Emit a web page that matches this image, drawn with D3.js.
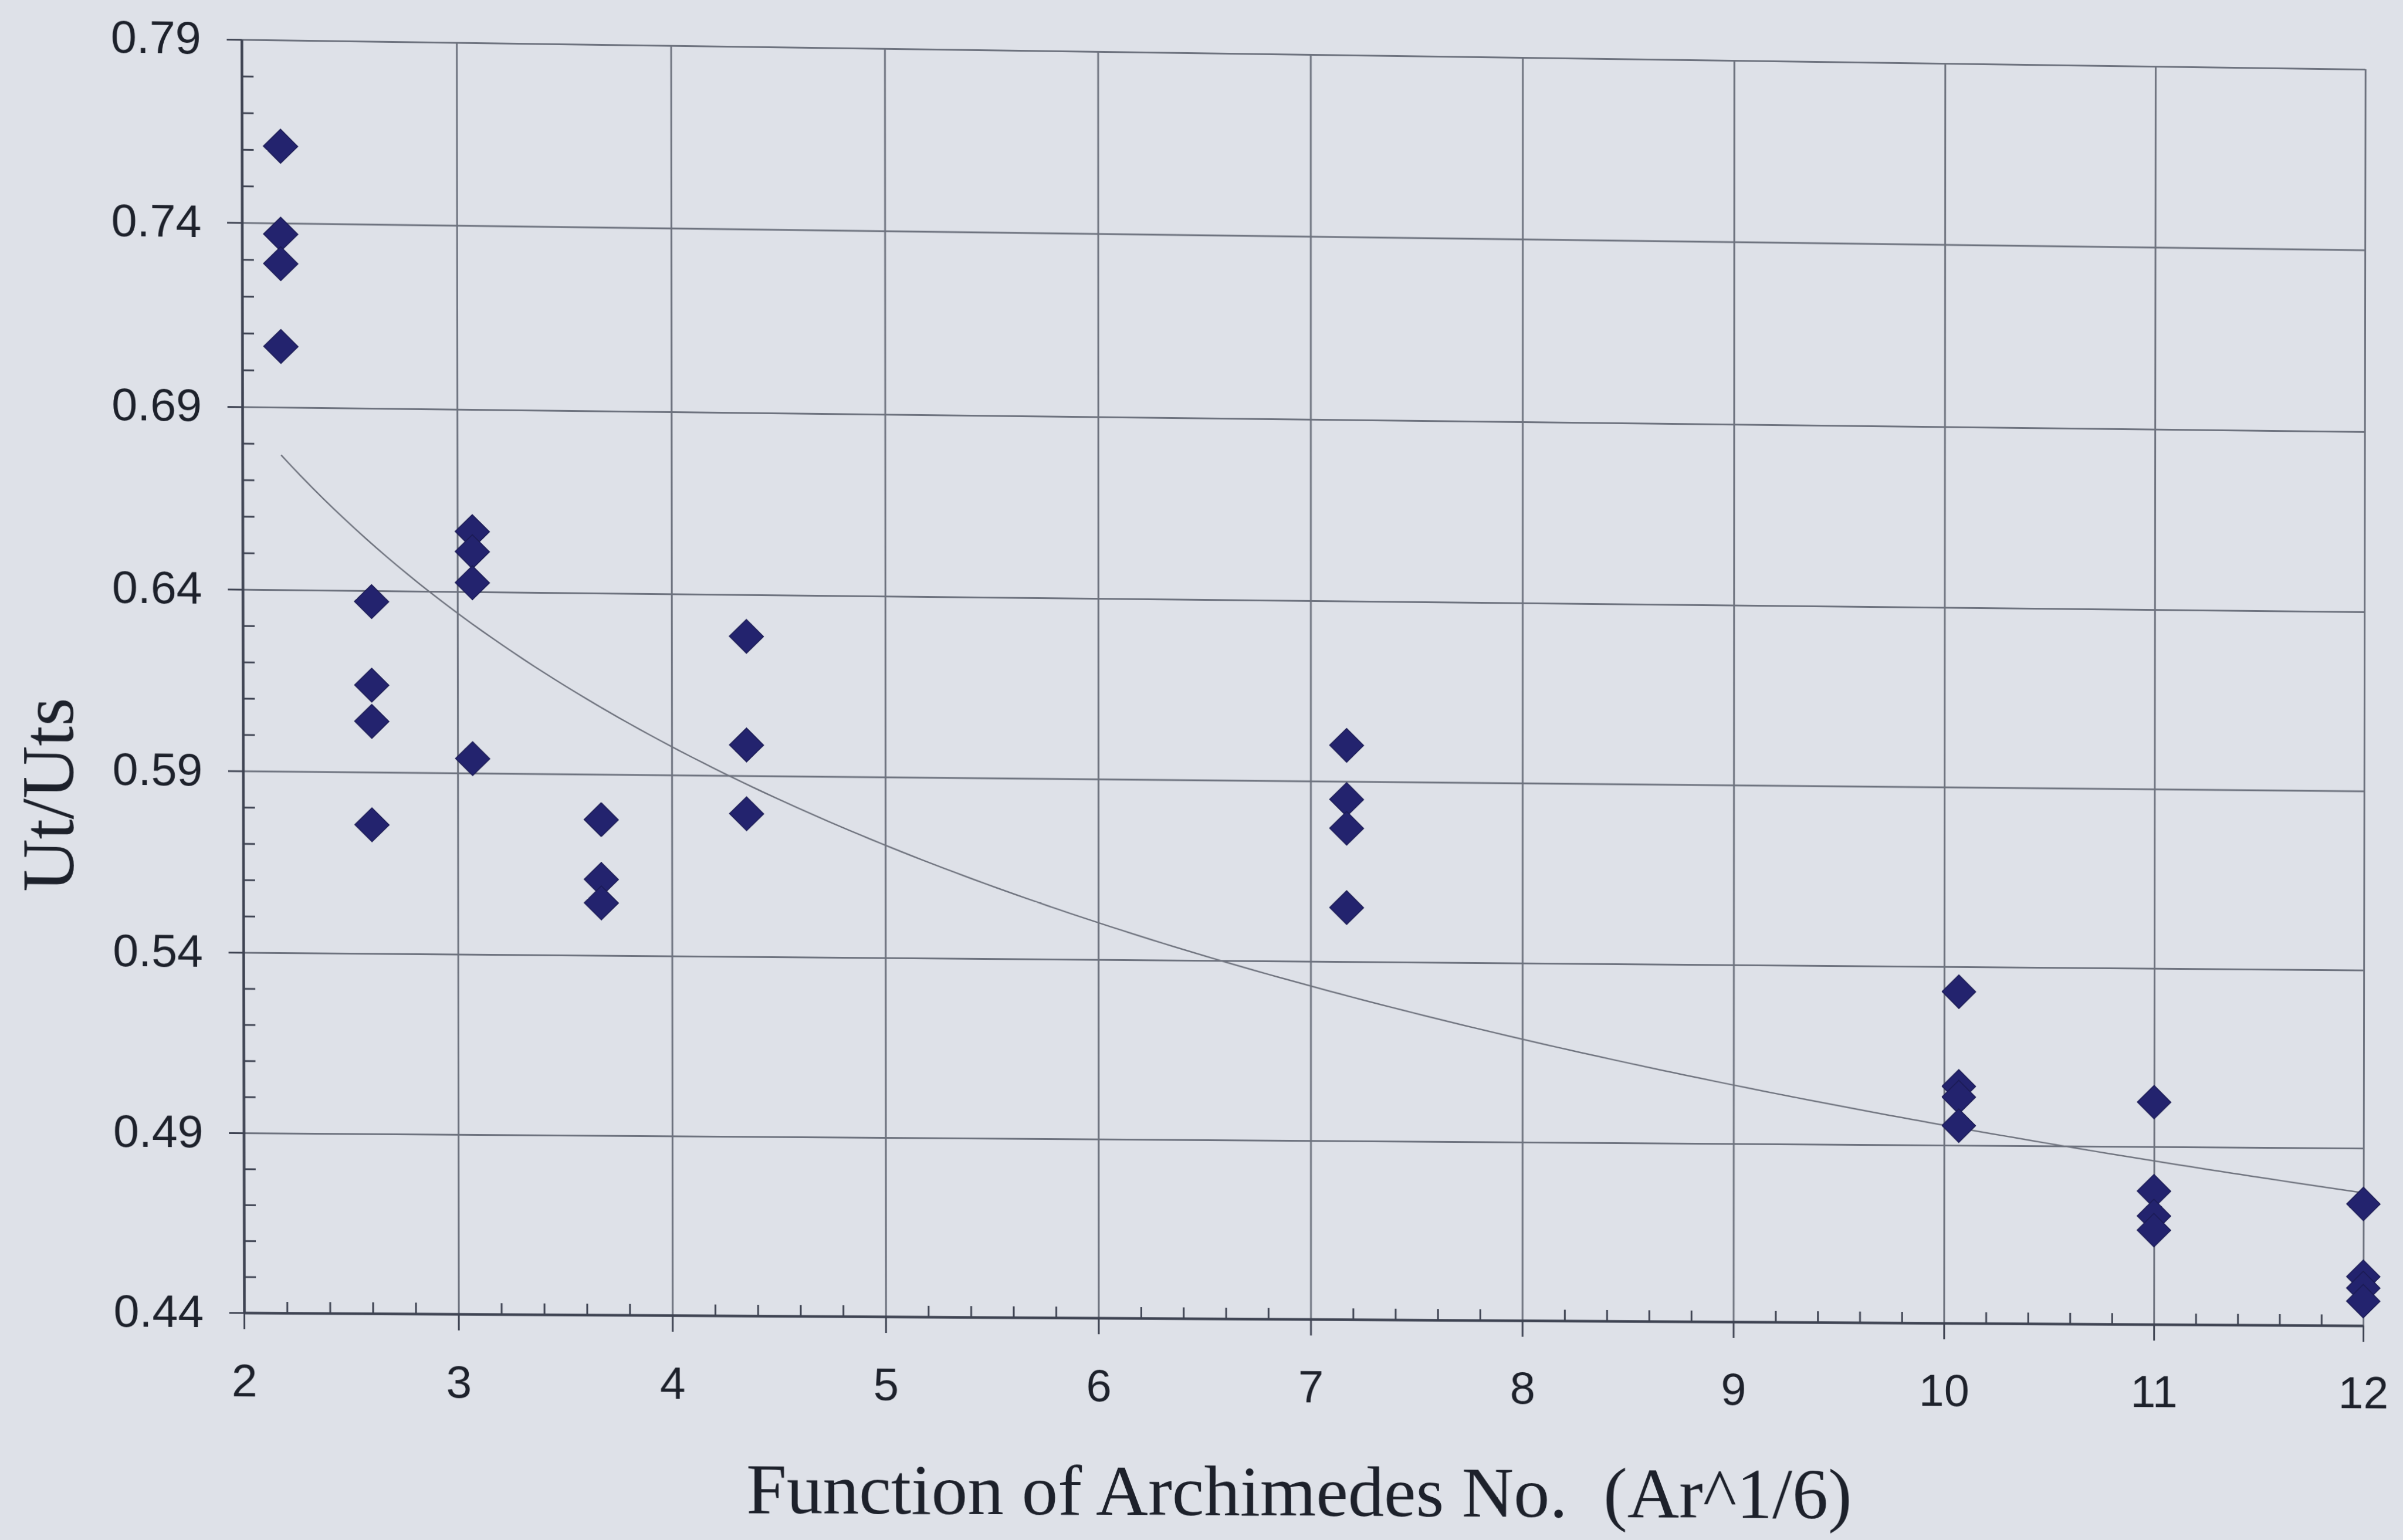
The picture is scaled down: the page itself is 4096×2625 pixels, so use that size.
<!DOCTYPE html>
<html>
<head>
<meta charset="utf-8">
<script src="https://cdn.jsdelivr.net/npm/d3@7"></script>
<style>
  html, body { margin: 0; padding: 0; background: #dee1e8; overflow: hidden; }
  #page { position: absolute; left: 0; top: 0; width: 4096px; height: 2625px; transform-origin: 0 0; }
  svg { display: block; }
</style>
</head>
<body>
<div id="page"></div>
<script>
// Measured terminal velocity ratio against the Archimedes-number group Ar^(1/6)
const xValues = [
  2.18, 2.18, 2.18, 2.18,
  2.60, 2.60, 2.60, 2.60,
  3.07, 3.07, 3.07, 3.07,
  3.67, 3.67, 3.67,
  4.35, 4.35, 4.35,
  7.17, 7.17, 7.17, 7.17,
  10.07, 10.07, 10.07, 10.07,
  11.00, 11.00, 11.00, 11.00,
  12.00, 12.00, 12.00, 12.00
];
const yValues = [
  0.761, 0.737, 0.729, 0.7065,
  0.637, 0.614, 0.604, 0.5755,
  0.6565, 0.651, 0.6425, 0.594,
  0.5775, 0.561, 0.5545,
  0.6285, 0.5985, 0.5795,
  0.600, 0.585, 0.577, 0.555,
  0.533, 0.5065, 0.5035, 0.4955,
  0.5025, 0.4775, 0.4705, 0.4665,
  0.4743, 0.4538, 0.4506, 0.4469
];
// power trendline y = a * x^b
const trendCoef = 0.794;
const trendPower = -0.2047;

const xTicks = [2, 3, 4, 5, 6, 7, 8, 9, 10, 11, 12];
const yTicks = [0.44, 0.49, 0.54, 0.59, 0.64, 0.69, 0.74, 0.79];
const xTitle = "Function of Archimedes No.\u00a0\u00a0(Ar^1/6)";
const yTitle = "Ut/Uts";

const W = 4096, H = 2625;
const plot = { left: 412, top: 67, right: 4031, bottom: 2237 };
const plotW = plot.right - plot.left, plotH = plot.bottom - plot.top;
// the printed sheet bows slightly in the middle: downward shift (px) at each y gridline
const sheetBow = [0, 3, 5, 5.5, 6, 5, 1.5, 0];

const COLORS = {
  grid: "#6d727e", axis: "#3e4352", text: "#1d212b",
  marker: "#23236e", markerEdge: "#1a1a52", trend: "#6f737e"
};

// The printed page sits slightly out of square: the sheet is projected onto this quad
const flatCorners = [[plot.left, plot.top], [plot.right, plot.top], [plot.left, plot.bottom], [plot.right, plot.bottom]];
const pageCorners = [[411.8, 67.4], [4031.0, 118.1], [416.0, 2237.2], [4026.9, 2258.9]];

function solveHomography(src, dst) {
  const A = [], b = [];
  for (let i = 0; i < 4; i++) {
    const [x, y] = src[i], [u, v] = dst[i];
    A.push([x, y, 1, 0, 0, 0, -x * u, -y * u]); b.push(u);
    A.push([0, 0, 0, x, y, 1, -x * v, -y * v]); b.push(v);
  }
  const n = 8;
  for (let c = 0; c < n; c++) {
    let p = c;
    for (let r = c + 1; r < n; r++) if (Math.abs(A[r][c]) > Math.abs(A[p][c])) p = r;
    [A[c], A[p]] = [A[p], A[c]]; [b[c], b[p]] = [b[p], b[c]];
    for (let r = c + 1; r < n; r++) {
      const f = A[r][c] / A[c][c];
      for (let k = c; k < n; k++) A[r][k] -= f * A[c][k];
      b[r] -= f * b[c];
    }
  }
  const h = new Array(n);
  for (let r = n - 1; r >= 0; r--) {
    let s = b[r];
    for (let k = r + 1; k < n; k++) s -= A[r][k] * h[k];
    h[r] = s / A[r][r];
  }
  return h;
}
function project(h, [x, y]) {
  const w = h[6] * x + h[7] * y + 1;
  return [(h[0] * x + h[1] * y + h[2]) / w, (h[3] * x + h[4] * y + h[5]) / w];
}
const hPage = solveHomography(flatCorners, pageCorners);
const hFlat = solveHomography(pageCorners, flatCorners);
d3.select("#page").style("transform",
  `matrix3d(${hPage[0]},${hPage[3]},0,${hPage[6]},${hPage[1]},${hPage[4]},0,${hPage[7]},0,0,1,0,${hPage[2]},${hPage[5]},0,1)`);

const x = d3.scaleLinear().domain([2, 12]).range([plot.left, plot.right]);
const yFlat = d3.scaleLinear().domain([0.44, 0.79]).range([plot.bottom, plot.top]);
// piecewise-linear scale through the gridlines, following the sheet's bow
const y = d3.scaleLinear().domain(yTicks).range(yTicks.map((v, i) => yFlat(v) + sheetBow[i]));

const svg = d3.select("#page").append("svg").attr("width", W).attr("height", H);

const tickFont = "'Liberation Sans', Arial, sans-serif";
const titleFont = "'Liberation Serif', 'Times New Roman', serif";

// gridlines
const gy = svg.append("g").attr("transform", `translate(${plot.left},0)`)
  .call(d3.axisLeft(y).tickValues(yTicks).tickSizeInner(-plotW).tickSizeOuter(0).tickFormat(""));
gy.select(".domain").remove();
gy.selectAll("line").attr("stroke", COLORS.grid).attr("stroke-width", 3);

const gx = svg.append("g").attr("transform", `translate(0,${plot.bottom})`)
  .call(d3.axisBottom(x).tickValues(xTicks).tickSizeInner(-plotH).tickSizeOuter(0).tickFormat(""));
gx.select(".domain").remove();
gx.selectAll("line").attr("stroke", COLORS.grid).attr("stroke-width", 3);

// minor ticks pointing into the plot
const yMinor = d3.range(44, 80).filter(i => i % 5 !== 4).map(i => i / 100);
const xMinor = d3.range(20, 121, 2).filter(i => i % 10 !== 0).map(i => i / 10);

const gyMinor = svg.append("g").attr("transform", `translate(${plot.left},0)`)
  .call(d3.axisLeft(y).tickValues(yMinor).tickSizeInner(-20).tickSizeOuter(0).tickFormat(""));
gyMinor.select(".domain").remove();
gyMinor.selectAll("line").attr("stroke", COLORS.axis).attr("stroke-width", 3);

const gxMinor = svg.append("g").attr("transform", `translate(0,${plot.bottom})`)
  .call(d3.axisBottom(x).tickValues(xMinor).tickSizeInner(-19).tickSizeOuter(0).tickFormat(""));
gxMinor.select(".domain").remove();
gxMinor.selectAll("line").attr("stroke", COLORS.axis).attr("stroke-width", 3);

// main axes with labels
const yAxis = svg.append("g").attr("transform", `translate(${plot.left},0)`)
  .call(d3.axisLeft(y).tickValues(yTicks).tickSizeInner(25).tickSizeOuter(0).tickPadding(43)
    .tickFormat(d3.format(".2f")));
yAxis.select(".domain").attr("stroke", COLORS.axis).attr("stroke-width", 4.5);
yAxis.selectAll("line").attr("stroke", COLORS.axis).attr("stroke-width", 3);
yAxis.selectAll("text").attr("fill", COLORS.text).style("font-family", tickFont).style("font-size", "78px");

const xAxis = svg.append("g").attr("transform", `translate(0,${plot.bottom})`)
  .call(d3.axisBottom(x).tickValues(xTicks).tickSizeInner(28).tickSizeOuter(0).tickPadding(60)
    .tickFormat(d3.format("d")));
xAxis.select(".domain").attr("stroke", COLORS.axis).attr("stroke-width", 4.5);
xAxis.selectAll("line").attr("stroke", COLORS.axis).attr("stroke-width", 3);
xAxis.selectAll("text").attr("fill", COLORS.text).style("font-family", tickFont).style("font-size", "78px");

// power-law trendline across the measured range
const [xMin, xMax] = d3.extent(xValues);
const trendX = d3.range(0, 201).map(i => xMin + (xMax - xMin) * i / 200);
svg.append("path")
  .attr("d", d3.line().x(d => x(d)).y(d => y(trendCoef * Math.pow(d, trendPower)))(trendX))
  .attr("fill", "none").attr("stroke", COLORS.trend).attr("stroke-width", 2.5);

// data markers (diamonds)
const diamond = d3.symbol().type(d3.symbolSquare).size(1681);
svg.append("g").selectAll("path")
  .data(xValues.map((v, i) => [v, yValues[i]]))
  .join("path")
  .attr("d", diamond)
  .attr("transform", d => `translate(${x(d[0])},${y(d[1])}) rotate(45)`)
  .attr("fill", COLORS.marker).attr("stroke", COLORS.markerEdge).attr("stroke-width", 1.5);

// axis titles, anchored on the page and mapped back into chart space
const xt = project(hFlat, [2217, 2583]);
svg.append("text").attr("x", xt[0]).attr("y", xt[1]).attr("text-anchor", "middle")
  .attr("fill", COLORS.text).style("font-family", titleFont).style("font-size", "123px")
  .text(xTitle);

const yt = project(hFlat, [125, 1355]);
svg.append("text").attr("transform", `translate(${yt[0]},${yt[1]}) rotate(-90)`)
  .attr("text-anchor", "middle")
  .attr("fill", COLORS.text).style("font-family", titleFont).style("font-size", "124px")
  .text(yTitle);
</script>
</body>
</html>
